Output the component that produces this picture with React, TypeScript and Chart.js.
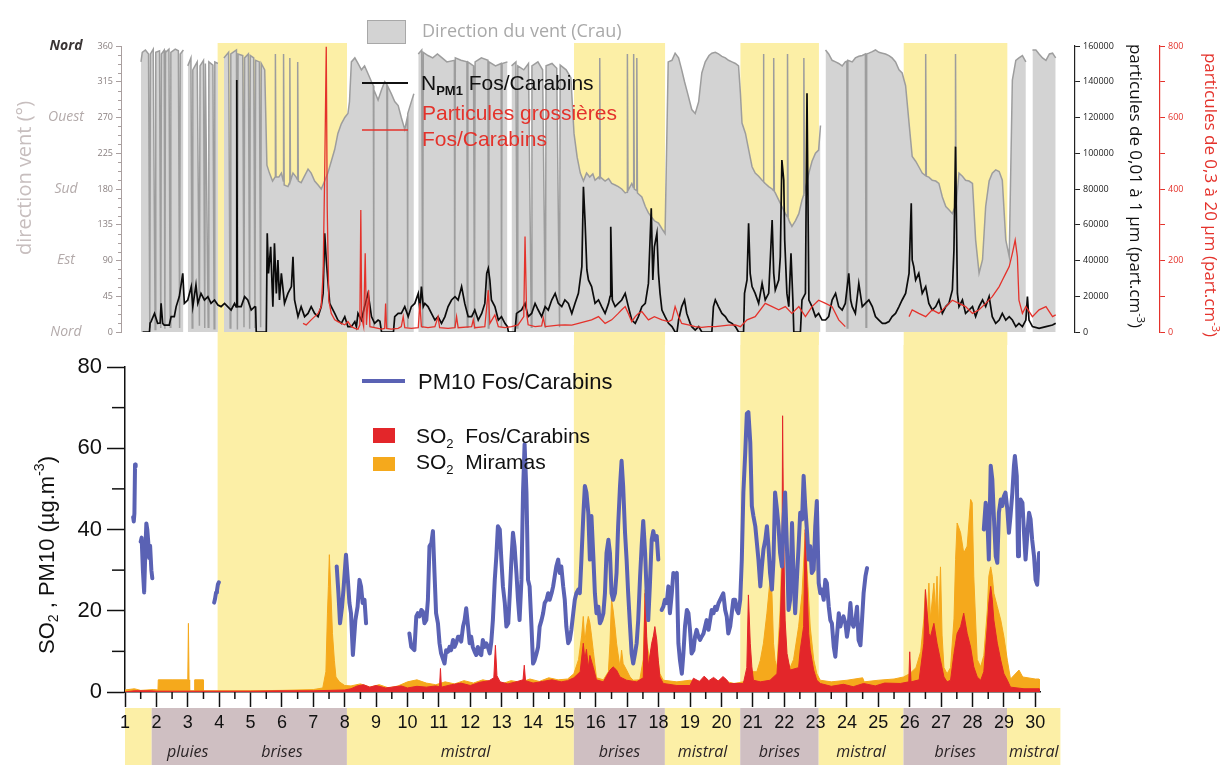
import React, { useEffect, useRef } from "react";
import { Chart, registerables } from "chart.js";

Chart.register(...registerables);
Chart.defaults.font.family = "'Liberation Sans', Arial, sans-serif";

type P = [number, number | null];

// ---------- periods ----------
const brisesStart = [3.95, 15.3, 20.6, 25.8];
const brisesEnd = [8.07, 18.2, 23.1, 29.1];
const stripStart = [1, 1.85, 8.07, 15.3, 18.2, 20.6, 23.1, 25.8, 29.1];
const stripEnd = [1.85, 8.07, 15.3, 18.2, 20.6, 23.1, 25.8, 29.1, 30.8];
const stripKind = ["m", "b", "m", "b", "m", "b", "m", "b", "m"];
const regimeDays = [3.0, 6.0, 11.85, 16.75, 19.4, 21.85, 24.45, 27.45, 29.95];
const regimeTexts = ["pluies", "brises", "mistral", "brises", "mistral", "brises", "mistral", "brises", "mistral"];
const cardinalValues = [360, 270, 180, 90, 0];
const cardinalTexts = ["Nord", "Ouest", "Sud", "Est", "Nord"];
const dayLabels = [1, 2, 3, 4, 5, 6, 7, 8, 9, 10, 11, 12, 13, 14, 15, 16, 17, 18, 19, 20, 21, 22, 23, 24, 25, 26, 27, 28, 29, 30];

// ---------- top panel: wind direction (deg) ----------
const windDir: P[] = [
  [1.51,340],[1.55,352],[1.65,355],[1.75,350],[1.79,5],[1.81,350],[1.9,356],[1.96,3],[1.98,352],[2.1,354],[2.14,5],[2.16,350],[2.25,355],[2.27,4],[2.29,352],[2.4,356],[2.44,6],[2.46,352],[2.6,356],[2.7,354],[2.74,5],[2.76,350],[2.86,355],[2.88,null],
  [3.0,335],[3.1,345],[3.14,5],[3.16,330],[3.3,340],[3.37,8],[3.39,335],[3.5,342],[3.54,5],[3.56,338],[3.65,6],[3.67,340],[3.8,336],[3.84,4],[3.86,340],[3.96,338],[3.98,null],
  [4.15,345],[4.3,352],[4.35,5],[4.37,350],[4.55,355],[4.58,3],[4.6,350],[4.75,348],[4.79,6],[4.81,345],[4.93,350],[4.97,4],[4.99,348],[5.1,345],[5.14,5],[5.16,342],[5.28,340],[5.32,6],[5.34,338],[5.45,330],
  [5.52,210],[5.6,200],[5.7,190],[5.78,195],[5.79,350],[5.81,195],[5.9,195],[5.98,200],[6.04,190],[6.05,350],[6.07,185],[6.19,183],[6.24,188],[6.25,345],[6.27,190],[6.35,200],[6.45,195],[6.49,192],[6.5,340],[6.52,190],[6.61,188],[6.7,195],[6.83,205],[6.93,200],[7.04,190],[7.15,185],[7.25,180],[7.36,190],[7.46,200],[7.57,215],[7.68,230],[7.78,250],[7.89,262],[8.0,270],[8.1,275],[8.15,290],
  [8.21,340],[8.32,345],[8.42,338],[8.53,330],[8.63,335],[8.74,325],[8.85,315],[8.91,310],[8.92,6],[8.93,305],[9.06,292],[9.17,305],[9.27,315],[9.34,312],[9.35,5],[9.36,310],[9.48,300],[9.59,290],[9.7,285],[9.8,270],[9.91,255],[9.99,270],[10.0,6],[10.01,275],[10.12,290],[10.2,300],[10.23,null],
  [10.34,350],[10.45,355],[10.48,5],[10.5,352],[10.65,348],[10.8,345],[10.95,350],[11.1,345],[11.25,340],[11.49,342],[11.5,5],[11.52,345],[11.7,342],[11.89,340],[11.9,6],[11.92,340],[12.1,335],[12.13,4],[12.15,340],[12.35,345],[12.56,342],[12.57,5],[12.59,340],[12.8,335],[12.98,338],[12.99,6],[13.01,338],[13.18,340],[13.2,null],
  [13.31,335],[13.45,340],[13.49,5],[13.51,335],[13.7,330],[13.85,338],[13.94,6],[13.96,335],[14.15,340],[14.3,330],[14.39,5],[14.41,335],[14.6,338],[14.75,332],[14.84,6],[14.86,336],[15.05,330],[15.2,320],
  [15.3,250],[15.4,220],[15.5,200],[15.6,190],[15.7,200],[15.8,195],[15.9,199],[15.97,191],[16.08,195],[16.11,193],[16.12,345],[16.14,195],[16.29,190],[16.4,193],[16.5,187],[16.61,185],[16.71,183],[16.82,180],[16.93,175],[16.99,176],[17.0,350],[17.02,178],[17.14,187],[17.19,182],[17.2,350],[17.22,180],[17.29,178],[17.3,345],[17.32,175],[17.46,170],[17.57,158],[17.67,150],[17.76,145],[17.86,140],[17.99,137],[18.1,130],[18.2,124],
  [18.3,340],[18.42,342],[18.52,351],[18.63,345],[18.73,330],[18.82,315],[18.92,300],[19.05,280],[19.16,275],[19.27,290],[19.37,326],[19.48,340],[19.6,348],[19.69,351],[19.8,352],[19.9,350],[20.01,347],[20.12,345],[20.22,342],[20.33,340],[20.44,338],[20.54,335],[20.6,300],[20.65,263],
  [20.76,250],[20.86,230],[20.97,208],[21.07,200],[21.18,196],[21.29,191],[21.32,190],[21.33,350],[21.35,189],[21.39,187],[21.5,183],[21.61,180],[21.65,178],[21.66,345],[21.68,177],[21.71,175],[21.82,166],[21.92,158],[22.03,149],[22.09,145],[22.1,350],[22.12,143],[22.14,141],[22.24,133],[22.35,140],[22.46,149],[22.56,166],[22.61,172],[22.62,345],[22.64,176],[22.67,180],[22.78,200],[22.88,215],[22.99,225],[23.09,229],[23.15,260],[23.18,null],
  [23.31,355],[23.41,350],[23.52,342],[23.63,340],[23.73,338],[23.84,335],[23.94,340],[23.99,341],[24.0,5],[24.02,342],[24.16,340],[24.26,345],[24.37,347],[24.48,348],[24.58,350],[24.6,6],[24.62,350],[24.69,351],[24.8,353],[24.9,355],[25.01,352],[25.12,351],[25.22,350],[25.33,348],[25.43,345],[25.54,340],[25.65,330],[25.75,326],[25.86,310],[25.97,263],
  [26.07,221],[26.18,215],[26.28,208],[26.39,200],[26.49,197],[26.5,350],[26.52,196],[26.6,195],[26.71,191],[26.82,190],[26.92,187],[27.03,170],[27.14,158],[27.24,154],[27.35,149],[27.44,158],[27.45,350],[27.47,160],[27.56,200],[27.67,196],[27.77,191],[27.88,190],[27.99,187],[28.09,116],[28.2,74],[28.31,91],[28.41,158],[28.52,190],[28.62,200],[28.73,204],[28.84,202],[28.94,191],[29.05,116],[29.16,95],
  [29.26,317],[29.37,342],[29.47,345],[29.58,348],[29.69,340],[29.74,null],
  [29.9,355],[30.01,355],[30.11,350],[30.22,345],[30.33,342],[30.44,350],[30.54,351],[30.64,345],
];

// ---------- top panel: N PM1 (part/cm3) ----------
const npm1: P[] = [
  [1.56,0],[1.78,0],[1.8,5000],[1.83,5800],[1.94,10400],[2.04,4850],[2.12,5000],[2.15,16000],[2.2,4850],[2.25,3900],[2.41,3900],[2.47,8600],[2.57,8600],[2.63,14200],[2.73,19800],[2.84,32800],[2.89,16000],[3.0,17900],[3.11,25400],[3.16,14200],[3.26,26300],[3.32,16000],[3.42,21600],[3.53,17900],[3.64,19800],[3.74,16000],[3.85,17900],[3.96,15100],[4.06,14200],[4.17,16000],[4.27,14200],[4.38,12300],[4.49,16000],[4.54,14000],[4.56,141000],[4.58,14200],[4.62,14200],[4.7,14200],[4.81,19800],[4.91,17900],[5.02,12300],[5.13,14200],[5.16,14000],[5.18,0],[5.34,0],[5.5,0],
  [5.53,55200],[5.57,32800],[5.64,47700],[5.71,14200],[5.76,49600],[5.82,21600],[5.87,40300],[5.92,17900],[5.98,32800],[6.08,16000],[6.19,21600],[6.3,25400],[6.35,42100],[6.4,17900],[6.51,8600],[6.61,14200],[6.72,8600],[6.83,10400],[6.93,14200],[7.04,10400],[7.15,8600],[7.25,14200],[7.31,21600],[7.36,55200],[7.41,40300],[7.46,29100],[7.52,16000],[7.57,14200],[7.68,10400],[7.78,6700],[7.89,4850],[8.0,8600],[8.1,3000],[8.21,3000],[8.32,5800],[8.37,3000],[8.42,10400],[8.53,6700],[8.63,14200],[8.74,21600],[8.79,16000],[8.85,8600],[8.95,4850],[9.06,6700],[9.12,6000],[9.17,0],[9.55,0],
  [9.59,8600],[9.7,10400],[9.8,10400],[9.91,14200],[10.02,8600],[10.12,14200],[10.23,16000],[10.34,21600],[10.39,12300],[10.44,25400],[10.5,14200],[10.55,16000],[10.65,14200],[10.76,10400],[10.87,6700],[10.97,8600],[11.08,4850],[11.19,8600],[11.29,14200],[11.4,17900],[11.51,19800],[11.61,17900],[11.72,25400],[11.82,16000],[11.93,8600],[12.04,8600],[12.14,12300],[12.25,6700],[12.36,10400],[12.46,16000],[12.52,32800],[12.57,35600],[12.62,29100],[12.67,17900],[12.78,14200],[12.89,6700],[12.99,8600],[13.1,4850],[13.18,3000],[13.21,0],[13.42,0],
  [13.47,10400],[13.63,12300],[13.74,16000],[13.84,8600],[13.95,10400],[14.06,16000],[14.16,12300],[14.27,8600],[14.38,14200],[14.48,12300],[14.59,17900],[14.7,21600],[14.8,16000],[14.91,14200],[15.01,17900],[15.12,16000],[15.23,10400],[15.33,16000],[15.44,21600],[15.55,36600],[15.6,81300],[15.65,62700],[15.71,34700],[15.76,29100],[15.86,25400],
  [15.97,16000],[16.08,17900],[16.18,14200],[16.29,10400],[16.4,16000],[16.45,20000],[16.47,58900],[16.52,17900],[16.61,14200],[16.71,16000],[16.82,17900],[16.93,21600],[17.03,14200],[17.14,6700],[17.25,4850],[17.35,8600],[17.46,14200],[17.57,16000],[17.67,27200],[17.76,69200],[17.81,29100],[17.86,47700],[17.94,55200],[17.99,32800],[18.04,21600],[18.1,12300],[18.2,8600],[18.31,4850],[18.42,3000],[18.52,0],[18.58,0],
  [18.63,6700],[18.73,14200],[18.82,17900],[18.89,10400],[19.0,4850],[19.05,3000],[19.16,1100],[19.27,3000],[19.37,0],[19.69,0],[19.74,14200],[19.8,17900],[19.9,14200],[20.01,10400],[20.12,8600],[20.22,5800],[20.33,4850],[20.44,3000],[20.54,0],[20.7,0],
  [20.73,21600],[20.81,29100],[20.86,60800],[20.91,32800],[20.97,25400],[21.07,21600],[21.18,16000],[21.29,27200],[21.39,17900],[21.5,21600],[21.61,62700],[21.66,32800],[21.71,23500],[21.82,29100],[21.87,42100],[21.92,96200],[21.98,85000],[22.01,51500],[22.08,21600],[22.14,14200],[22.21,44000],[22.27,17900],[22.3,0],[22.51,0],
  [22.56,17900],[22.67,21600],[22.72,133500],[22.78,17900],[22.88,14200],[22.99,8600],[23.09,10400],[23.2,6700],[23.31,6700],[23.41,8600],[23.52,17900],[23.63,21600],[23.73,14200],[23.84,12300],[23.94,16000],[24.05,32800],[24.11,17900],[24.16,14200],[24.26,10400],[24.37,27200],[24.48,14200],[24.58,16000],[24.69,17900],[24.8,14200],[24.9,8600],[25.01,6700],[25.12,4850],[25.22,4850],[25.33,5800],[25.43,8600],[25.54,10400],[25.65,14200],[25.75,17900],[25.86,21600],[25.97,32800],
  [26.04,72000],[26.07,40300],[26.12,36600],[26.18,29100],[26.28,32800],[26.39,21600],[26.5,25400],[26.6,16000],[26.71,12300],[26.82,14200],[26.92,17900],[27.03,10400],[27.14,14200],[27.24,16000],[27.35,23500],[27.4,45900],[27.45,103700],[27.51,21600],[27.56,14200],[27.67,17900],[27.77,10400],[27.88,12300],[27.99,14200],[28.09,8600],[28.2,14200],[28.31,17900],[28.41,14200],[28.52,19800],[28.62,8600],[28.73,4850],[28.84,6700],[28.94,10400],[29.05,6700],[29.16,8600],[29.26,6700],[29.37,3000],[29.47,4850],[29.58,3000],[29.69,6700],[29.74,19800],[29.79,6700],[29.9,3000],[30.11,2050],[30.33,3000],[30.54,3900],[30.64,4850],
];

// ---------- top panel: coarse particles 0.3-20 um (part/cm3) ----------
const coarse: P[] = [
  [6.67,24],[6.77,20],[6.93,34],[7.04,43],[7.15,52],[7.25,71],[7.31,164],[7.36,444],[7.41,798],[7.44,350],[7.49,89],[7.57,52],[7.68,34],[7.78,29],[7.89,24],[8.0,20],[8.1,29],[8.21,15],[8.32,10],[8.42,8],[8.48,20],[8.51,341],[8.54,40],[8.6,15],[8.65,220],[8.69,20],[8.76,117],[8.8,15],[8.95,12],[9.06,10],[9.17,8],[9.27,10],[9.3,80],[9.33,10],[9.48,8],[9.7,10],[9.8,15],[9.86,43],[9.91,12],[10.12,10],[10.34,12],[10.39,80],[10.44,15],[10.65,12],[10.87,15],[10.97,43],[11.02,12],[11.29,10],[11.51,12],[11.56,43],[11.61,12],[12.04,15],[12.09,34],[12.14,12],[12.46,15],[12.57,117],[12.62,24],[12.78,48],[12.89,15],[13.1,12],[13.31,15],[13.52,20],[13.7,43],[13.74,267],[13.79,52],[13.84,20],[14.06,15],[14.27,17],[14.32,40],[14.38,15],[14.59,17],[14.8,19],[15.01,20],[15.23,19],[15.44,24],[15.65,29],[15.86,34],
  [16.08,43],[16.29,24],[16.5,34],[16.71,52],[16.82,62],[16.93,71],[17.03,52],[17.14,29],[17.25,43],[17.35,52],[17.46,57],[17.67,34],[17.86,43],[18.1,34],[18.31,29],[18.42,34],[18.52,71],[18.63,43],[18.73,24],[18.94,20],[19.16,15],[19.37,13],[19.58,15],[19.8,15],[20.01,17],[20.22,19],[20.44,20],[20.6,15],[20.81,34],[21.07,43],[21.39,80],[21.61,71],[21.82,62],[22.03,71],[22.24,52],[22.46,71],[22.67,43],[22.88,71],[23.09,89],[23.31,80],[23.52,71],[23.73,34],[23.94,15],[24.0,null],
  [25.97,43],[26.07,62],[26.28,52],[26.5,43],[26.71,62],[26.92,52],[27.14,71],[27.35,89],[27.56,80],[27.77,71],[27.99,52],[28.2,62],[28.41,80],[28.62,99],[28.84,127],[28.94,145],[29.05,164],[29.16,183],[29.26,220],[29.35,257],[29.42,211],[29.47,89],[29.58,52],[29.69,71],[29.9,43],[30.11,62],[30.33,71],[30.54,43],[30.64,48],
];

// ---------- bottom panel: PM10 (ug/m3) ----------
const pm10: P[] = [
  [1.26,43],[1.28,42],[1.3,44],[1.32,56],[1.34,55.5],[1.4,null],
  [1.5,37],[1.53,38],[1.57,30],[1.61,24.5],[1.65,35],[1.68,41.5],[1.71,40],[1.74,37],[1.77,33],[1.8,36],[1.84,30],[1.87,28],[2.0,null],
  [3.84,22],[3.87,23],[3.9,24.5],[3.93,25],[3.96,26.5],[3.99,27],[4.5,null],
  [7.745,30.9],[7.8,24.3],[7.85,16.9],[7.915,21],[7.96,25.2],[8.04,33.8],[8.1,27.6],[8.15,21.9],[8.2,19.4],[8.26,9.1],[8.34,17.7],[8.41,21],[8.47,27.6],[8.52,26],[8.57,21.9],[8.63,22.7],[8.68,16.9],[9.0,null],
  [10.06,14.4],[10.12,11.1],[10.22,10.3],[10.28,18.6],[10.33,19.4],[10.38,18.6],[10.44,20.2],[10.49,19.8],[10.54,16.9],[10.6,17.7],[10.65,22.7],[10.7,35.9],[10.76,36.7],[10.81,39.6],[10.86,29.3],[10.91,19.4],[10.97,16.9],[11.02,12],[11.07,9.5],[11.18,7],[11.23,10.3],[11.29,9.9],[11.34,11.1],[11.39,10.3],[11.45,12.8],[11.5,11.1],[11.55,12],[11.61,13.6],[11.66,13.6],[11.71,12.4],[11.77,16.1],[11.82,17.7],[11.87,20.6],[11.93,16.1],[11.98,12],[12.03,13.6],[12.08,11.1],[12.14,9.9],[12.19,9.1],[12.24,11.1],[12.3,9.5],[12.35,9.1],[12.4,12.8],[12.46,11.1],[12.51,12],[12.56,11.1],[12.62,9.5],[12.67,12.4],[12.72,17.7],[12.78,27.6],[12.83,33.4],[12.88,40.8],[12.94,40],[12.99,32.6],[13.04,26],[13.1,21.9],[13.15,16.1],[13.21,16.9],[13.26,24.3],[13.31,32.6],[13.36,39.2],[13.41,35.9],[13.47,29.3],[13.52,22.7],[13.57,17.7],[13.63,27.6],[13.68,49.1],[13.73,61],[13.79,49.1],[13.84,27.6],[13.89,26],[13.95,16.1],[14.0,7],[14.05,7.8],[14.11,9.5],[14.16,11.1],[14.21,16.1],[14.27,17.7],[14.32,19.4],[14.37,21.9],[14.43,22.7],[14.48,24.3],[14.53,22.7],[14.59,24.3],[14.64,26],[14.69,28.5],[14.74,30.9],[14.8,32.6],[14.85,29.3],[14.9,30.9],[14.96,26],[15.01,22.7],[15.06,16.1],[15.12,12],[15.17,12.8],[15.22,15.3],[15.28,19.4],[15.33,22.7],[15.38,24.3],[15.44,25.2],[15.49,24.3],[15.54,32.6],[15.6,43.3],[15.65,50.7],[15.7,49.1],[15.76,44.1],
  [15.81,32.6],[15.86,43.3],[15.92,33.4],[15.97,24.3],[16.02,19.4],[16.08,21],[16.13,16.9],[16.18,17.7],[16.24,19.4],[16.29,24.3],[16.34,34.2],[16.4,37.5],[16.45,34.2],[16.5,24.3],[16.55,22.7],[16.61,24.3],[16.66,29.3],[16.71,40.8],[16.77,50.7],[16.82,56.9],[16.87,50.7],[16.93,39.2],[16.98,32.6],[17.03,24.3],[17.09,16.1],[17.14,9.5],[17.19,7],[17.25,9.5],[17.3,12],[17.35,17.7],[17.41,28.5],[17.46,35.9],[17.51,42.1],[17.57,34.2],[17.62,24.3],[17.67,17.7],[17.72,26],[17.78,37.5],[17.83,39.6],[17.88,37.5],[17.94,38.4],[17.99,32.6],[18.05,null],
  [18.1,20.2],[18.15,21],[18.2,22.7],[18.26,21.9],[18.31,26],[18.36,19.4],[18.42,24.3],[18.47,29.3],[18.52,28.5],[18.58,29.3],[18.63,12],[18.68,7.8],[18.74,4.5],[18.79,9.5],[18.84,16.1],[18.9,20.2],[18.95,19.4],[19.0,15.3],[19.05,9.5],[19.11,10.3],[19.16,13.6],[19.21,15.3],[19.27,13.6],[19.32,12.8],[19.37,13.6],[19.43,14.4],[19.48,16.1],[19.53,17.7],[19.59,15.3],[19.64,17.7],[19.69,20.2],[19.75,19.4],[19.8,21],[19.85,20.2],[19.91,21.9],[19.96,22.7],[20.01,23.5],[20.06,24.3],[20.12,20.2],[20.17,18.6],[20.22,14.4],[20.28,16.1],[20.33,19.4],[20.38,22.7],[20.44,22.7],[20.49,20.2],[20.54,19.4],[20.6,22.7],[20.65,32.6],[20.7,49.1],[20.76,59],[20.81,68.5],[20.86,68.9],[20.92,61.4],[20.97,45.8],[21.02,43.3],[21.08,40.8],[21.13,36.7],[21.18,32.6],[21.24,26],[21.29,30.9],[21.34,35.1],[21.4,37.5],[21.45,40.8],[21.5,35.9],[21.55,29.3],[21.61,25.2],[21.66,32.6],[21.71,49.1],[21.77,44.9],[21.82,40.8],[21.87,34.2],[21.93,30.9],[21.98,42.5],[22.03,49.1],[22.09,35.1],[22.14,20.2],[22.19,22.7],[22.25,41.6],[22.3,28.5],[22.35,19.4],[22.41,28.5],[22.46,35.9],[22.51,44.1],[22.57,42.5],[22.62,53.2],[22.67,45.8],[22.73,39.2],[22.78,32.6],[22.83,35.9],[22.88,29.3],[22.94,30.1],[22.99,40.8],[23.04,47],[23.1,26.8],[23.15,24.3],[23.2,25.2],[23.26,22.7],[23.31,27.6],[23.36,26.8],[23.42,21],[23.47,17.7],[23.52,16.9],[23.58,11.1],[23.63,8.7],[23.68,13.6],[23.74,19.4],[23.79,16.1],[23.84,17.7],[23.89,18.6],[23.95,16.9],[24.0,13.6],[24.05,16.1],[24.11,21.9],[24.16,16.9],[24.21,16.1],[24.27,17.7],[24.32,21],[24.37,12.8],[24.43,11.5],[24.48,17.7],[24.53,24.3],[24.59,28.5],[24.64,30.5],[25.0,null],
  [28.36,40],[28.42,46.6],[28.47,43.3],[28.52,32.6],[28.58,55.7],[28.63,52.4],[28.68,43.3],[28.74,33.4],[28.79,31.8],[28.84,44.1],[28.9,47.4],[28.95,45.8],[29.0,48.2],[29.05,49.1],[29.11,44.9],[29.16,39.2],[29.21,43.3],[29.27,49.1],[29.32,55.7],[29.35,58.1],[29.41,53.2],[29.45,33.4],[29.48,42.5],[29.53,47.4],[29.59,46.6],[29.64,39.2],[29.69,32.6],[29.75,39.2],[29.8,44.1],[29.85,42.5],[29.9,37.5],[29.96,33.4],[30.01,27.6],[30.06,26.4],[30.12,34.2],
];

// ---------- bottom panel: SO2 Fos/Carabins (ug/m3) ----------
const so2Fos: P[] = [
  [1.0,0],[1.3,0.3],[1.8,0.3],[2.0,0.2],[3.0,0.2],[4.0,0.2],[5.0,0.2],[6.0,0.3],[7.0,0.3],[7.5,0.4],[8.0,0.5],[8.2,0.8],[8.4,1.5],[8.6,1.8],[8.8,1.2],[9.0,1.6],[9.3,1.0],[9.5,1.2],[9.8,1.5],[10.0,1.0],[10.3,1.4],[10.6,1.2],[10.9,1.5],[11.02,1.3],[11.05,5.8],[11.08,1.2],[11.4,1.8],[11.7,2.2],[12.0,1.6],[12.3,2.4],[12.6,2.8],[12.75,3.5],[12.8,11.5],[12.85,4],[12.95,2.5],[13.2,2.0],[13.5,2.6],[13.68,3.0],[13.72,6.6],[13.76,2.8],[14.0,2.2],[14.3,2.6],[14.6,3.0],[14.9,2.5],[15.1,2.8],[15.3,3.5],[15.5,5],[15.6,12],[15.65,8],[15.7,10.5],[15.76,6],[15.81,9],[15.92,6],[16.02,3],[16.24,2.5],[16.45,5.4],[16.55,6.2],[16.66,5.4],[16.77,3.7],[16.98,2.9],[17.3,2.5],[17.51,3.5],[17.57,24.3],[17.62,13.6],[17.67,6.2],[17.78,12],[17.83,13.6],[17.88,16.1],[17.94,12.8],[17.99,7.8],[18.04,3.7],[18.15,2.1],[18.58,1.6],[19.0,1.6],[19.11,3.4],[19.3,2.6],[19.45,3.9],[19.6,2.8],[19.75,3.6],[19.9,2.7],[20.05,3.8],[20.17,3.0],[20.25,2.1],[20.7,2.1],[20.81,6],[20.86,23.9],[20.92,12],[20.97,6.2],[21.02,2.9],[21.24,2.5],[21.55,2.9],[21.77,4.5],[21.87,16.1],[21.93,30],[21.95,68],[21.98,40],[22.03,17.7],[22.09,9.5],[22.19,5.4],[22.46,6],[22.51,10.3],[22.62,16.1],[22.67,40],[22.73,26],[22.78,14.4],[22.83,10.3],[22.94,5.4],[23.04,2.9],[23.15,2.1],[23.5,1.4],[23.89,1.9],[24.2,1.3],[24.53,2.1],[24.9,1.5],[25.2,2.2],[25.7,2.1],[25.97,2.5],[26.0,9.9],[26.04,2.5],[26.3,3],[26.45,12],[26.5,25.2],[26.55,20],[26.61,14.4],[26.66,13.6],[26.77,16.9],[26.87,12],[26.98,7.8],[27.09,3.7],[27.19,2.5],[27.3,2.9],[27.41,9.5],[27.46,12],[27.51,14.4],[27.62,16.1],[27.72,19.4],[27.83,14.4],[27.94,11],[28.04,6.2],[28.15,3.7],[28.26,2.9],[28.36,5],[28.47,16],[28.52,21.9],[28.58,26],[28.63,22.7],[28.68,17.7],[28.79,12],[28.9,7.8],[29.0,4.5],[29.11,2.9],[29.21,1.2],[29.64,0.8],[30.12,0.8],[30.13,0],
];

// ---------- bottom panel: SO2 Miramas (ug/m3) ----------
const so2Miramas: P[] = [
  [1.0,0.5],[1.3,0.8],[1.5,0.4],[1.9,0.6],[2.05,0.5],[2.06,3],[2.5,3],[3.0,3],[3.02,16.9],[3.04,3],[3.06,0.3],[3.2,0.3],[3.22,3],[3.49,3],[3.5,0.3],[4.0,0.3],[5.0,0.3],[6.0,0.4],[7.0,0.6],[7.3,1],[7.4,5],[7.45,19.4],[7.48,26],[7.51,33.8],[7.56,24.3],[7.61,14.4],[7.67,7.8],[7.72,3.7],[7.83,2.5],[8.0,1.6],[8.2,1.5],[8.5,2.0],[8.8,1.2],[9.1,1.8],[9.4,1.0],[9.7,1.5],[10.0,2.5],[10.3,3.0],[10.6,2.2],[10.9,1.8],[11.2,2.5],[11.5,2.0],[11.8,2.8],[12.1,2.2],[12.4,3.0],[12.7,2.5],[13.0,2.0],[13.3,2.8],[13.6,2.4],[13.9,3.2],[14.2,2.6],[14.5,3.5],[14.8,3.0],[15.1,3.2],[15.3,4.5],[15.45,8],[15.55,14],[15.6,18.6],[15.65,12],[15.7,16],[15.76,18.6],[15.81,17],[15.86,14],[15.92,10],[16.02,3.5],[16.24,3],[16.4,5],[16.45,12],[16.5,22.7],[16.55,20.2],[16.61,16.1],[16.66,12],[16.77,6],[16.82,10.3],[16.87,7],[16.98,5.4],[17.09,3.7],[17.19,2.9],[17.4,3],[17.51,8],[17.57,25.2],[17.62,12],[17.72,8],[17.83,13.6],[17.94,10],[18.04,4.5],[18.15,2.9],[18.58,2.5],[19.0,2.9],[19.5,2.5],[20.0,2.9],[20.4,2.1],[20.7,2.5],[20.86,4],[20.97,5],[21.13,5],[21.24,7.8],[21.34,12],[21.45,19.4],[21.55,27.6],[21.61,24.3],[21.66,12],[21.71,7.8],[21.77,6],[21.87,20],[21.93,36],[21.98,30],[22.03,14],[22.09,8],[22.19,6],[22.3,8],[22.46,16.1],[22.57,24.3],[22.67,39.2],[22.73,30],[22.83,16],[22.94,8],[23.04,4.5],[23.15,2.9],[23.5,2.5],[24.0,2.9],[24.5,3.5],[24.55,2.5],[25.0,2.9],[25.5,3.2],[25.8,3.7],[26.0,4.5],[26.2,6],[26.35,10],[26.45,18],[26.5,25.2],[26.55,16],[26.61,26.8],[26.66,18],[26.77,26.8],[26.82,20],[26.87,28.5],[26.92,16],[26.98,30.8],[27.03,14],[27.09,6],[27.19,4.5],[27.3,6],[27.41,18],[27.46,32.6],[27.51,41.6],[27.62,39.2],[27.72,34.2],[27.83,35.9],[27.94,47.4],[27.99,46.6],[28.04,28.5],[28.15,8],[28.26,6.2],[28.36,9],[28.47,20],[28.52,28.5],[28.58,30.8],[28.63,28.5],[28.68,24.3],[28.79,21],[28.9,17.7],[29.0,13.6],[29.11,7.8],[29.21,3.2],[29.48,5.4],[29.6,3.7],[30.0,3.2],[30.12,3.2],[30.13,0],
];

// ---------- styles ----------
const YELLOW = "#fcefa6";
const MAUVE = "#cfbfc2";
const GREY_FILL = "#d3d3d3";
const GREY_LINE = "#9d9d9d";
const RED_TOP = "#e4322b";
const BLUE = "#5a62b4";
const RED_SO2 = "#e3262a";
const ORANGE_SO2 = "#f5a91c";
const OPEN = "'Open Sans', 'DejaVu Sans', sans-serif";
const LIB = "'Liberation Sans', Arial, sans-serif";

const toXY = (arr: P[]) => arr.map(([x, y]) => ({ x, y }));

type Seg = { t: string; size: number; dy?: number; weight?: string; style?: string };

function segFont(s: Seg, family: string) {
  return `${s.style || "normal"} ${s.weight || "normal"} ${s.size}px ${family}`;
}

function drawRich(ctx: CanvasRenderingContext2D, x: number, y: number, rot: number, segs: Seg[], family: string, color: string, align: "center" | "left") {
  ctx.save();
  ctx.translate(x, y);
  ctx.rotate(rot);
  ctx.fillStyle = color;
  ctx.textAlign = "left";
  ctx.textBaseline = "alphabetic";
  let total = 0;
  for (const s of segs) {
    ctx.font = segFont(s, family);
    total += ctx.measureText(s.t).width;
  }
  let cx = align === "center" ? -total / 2 : 0;
  for (const s of segs) {
    ctx.font = segFont(s, family);
    ctx.fillText(s.t, cx, s.dy || 0);
    cx += ctx.measureText(s.t).width;
  }
  ctx.restore();
}

const topDecor = {
  id: "topDecor",
  beforeDatasetsDraw(chart: any) {
    const { ctx, chartArea, scales } = chart;
    const xs = scales.x;
    ctx.save();
    ctx.fillStyle = YELLOW;
    for (let i = 0; i < brisesStart.length; i++) {
      const a = xs.getPixelForValue(brisesStart[i]);
      const b = xs.getPixelForValue(brisesEnd[i]);
      ctx.fillRect(a, chartArea.top - 3, b - a, chart.height - chartArea.top + 3);
    }
    ctx.restore();
  },
  afterDraw(chart: any) {
    const { ctx, chartArea, scales } = chart;
    const yd = scales.yDir;
    ctx.save();
    ctx.strokeStyle = "#a99f9f";
    ctx.lineWidth = 1;
    for (let v = 0; v <= 360; v += 11.25) {
      if (v % 45 === 0) continue;
      const y = Math.round(yd.getPixelForValue(v)) + 0.5;
      ctx.beginPath();
      ctx.moveTo(chartArea.left - 3, y);
      ctx.lineTo(chartArea.left, y);
      ctx.stroke();
    }
    ctx.textAlign = "center";
    ctx.textBaseline = "middle";
    cardinalValues.forEach((v, i) => {
      const first = i === 0;
      ctx.font = `italic ${first ? "bold " : ""}14px ${OPEN}`;
      ctx.fillStyle = first ? "#3a3535" : "#b3aaaa";
      ctx.fillText(cardinalTexts[i], 66, yd.getPixelForValue(v));
    });
    drawRich(ctx, 24, 178, -Math.PI / 2, [{ t: "direction vent (°)", size: 20, dy: 7 }], OPEN, "#c7bebe", "center");
    drawRich(ctx, 1136, 186, Math.PI / 2, [
      { t: "particules de 0,01 à 1 µm (part.cm", size: 17, dy: 6 },
      { t: "-3", size: 11, dy: -1 },
      { t: ")", size: 17, dy: 6 },
    ], OPEN, "#111", "center");
    drawRich(ctx, 1211, 195, Math.PI / 2, [
      { t: "particules de 0,3 à 20 µm (part.cm", size: 17, dy: 6 },
      { t: "-3", size: 11, dy: -1 },
      { t: ")", size: 17, dy: 6 },
    ], OPEN, RED_TOP, "center");
    ctx.fillStyle = GREY_FILL;
    ctx.fillRect(367, 20, 38, 23);
    ctx.strokeStyle = "#a8a8a8";
    ctx.lineWidth = 1;
    ctx.strokeRect(367.5, 20.5, 38, 23);
    drawRich(ctx, 422, 37, 0, [{ t: "Direction du vent (Crau)", size: 18 }], OPEN, "#a9a9a9", "left");
    ctx.strokeStyle = "#111";
    ctx.lineWidth = 1.8;
    ctx.beginPath();
    ctx.moveTo(362, 83);
    ctx.lineTo(408, 83);
    ctx.stroke();
    drawRich(ctx, 421, 90, 0, [
      { t: "N", size: 21 },
      { t: "PM1", size: 13, dy: 5, weight: "bold" },
      { t: " Fos/Carabins", size: 21 },
    ], LIB, "#111", "left");
    ctx.strokeStyle = RED_TOP;
    ctx.lineWidth = 1.5;
    ctx.beginPath();
    ctx.moveTo(362, 130);
    ctx.lineTo(408, 130);
    ctx.stroke();
    drawRich(ctx, 422, 120, 0, [{ t: "Particules grossières", size: 21 }], LIB, RED_TOP, "left");
    drawRich(ctx, 422, 146, 0, [{ t: "Fos/Carabins", size: 21 }], LIB, RED_TOP, "left");
    ctx.restore();
  },
};

const bottomDecor = {
  id: "bottomDecor",
  beforeDraw(chart: any) {
    const { ctx, chartArea, scales } = chart;
    const xs = scales.x;
    ctx.save();
    const top = chartArea.bottom + 16;
    for (let i = 0; i < stripStart.length; i++) {
      const a = xs.getPixelForValue(stripStart[i]);
      const b = xs.getPixelForValue(stripEnd[i]);
      ctx.fillStyle = stripKind[i] === "m" ? YELLOW : MAUVE;
      ctx.fillRect(a, top, b - a, chart.height - top);
    }
    ctx.fillStyle = YELLOW;
    for (let i = 0; i < brisesStart.length; i++) {
      const a = xs.getPixelForValue(brisesStart[i]);
      const b = xs.getPixelForValue(brisesEnd[i]);
      ctx.fillRect(a, 0, b - a, chartArea.bottom);
    }
    ctx.restore();
  },
  afterDraw(chart: any) {
    const { ctx, chartArea, scales } = chart;
    const xs = scales.x;
    const ys = scales.y;
    ctx.save();
    ctx.strokeStyle = "#111";
    ctx.lineWidth = 1.5;
    for (const d of dayLabels) {
      if (d >= 30) continue;
      const x = xs.getPixelForValue(d + 0.5);
      ctx.beginPath();
      ctx.moveTo(x, chartArea.bottom);
      ctx.lineTo(x, chartArea.bottom + 7);
      ctx.stroke();
    }
    for (let v = 10; v < 80; v += 20) {
      const y = ys.getPixelForValue(v);
      ctx.beginPath();
      ctx.moveTo(chartArea.left - 13, y);
      ctx.lineTo(chartArea.left, y);
      ctx.stroke();
    }
    ctx.fillStyle = "#2a2426";
    ctx.font = `italic 16px ${OPEN}`;
    ctx.textAlign = "center";
    ctx.textBaseline = "middle";
    regimeDays.forEach((d, i) => {
      ctx.fillText(regimeTexts[i], xs.getPixelForValue(d), chart.height - 13);
    });
    drawRich(ctx, 46, 210, -Math.PI / 2, [
      { t: "SO", size: 22, dy: 8 },
      { t: "2", size: 14, dy: 12 },
      { t: " , PM10 (µg.m", size: 22, dy: 8 },
      { t: "-3", size: 14, dy: -2 },
      { t: ")", size: 22, dy: 8 },
    ], LIB, "#111", "center");
    ctx.strokeStyle = BLUE;
    ctx.lineWidth = 4;
    ctx.beginPath();
    ctx.moveTo(362, 36);
    ctx.lineTo(405, 36);
    ctx.stroke();
    drawRich(ctx, 418, 44, 0, [{ t: "PM10 Fos/Carabins", size: 22 }], LIB, "#111", "left");
    ctx.fillStyle = RED_SO2;
    ctx.fillRect(373, 83, 22, 15);
    drawRich(ctx, 416, 98, 0, [
      { t: "SO", size: 21 },
      { t: "2", size: 13, dy: 5 },
      { t: "  Fos/Carabins", size: 21 },
    ], LIB, "#111", "left");
    ctx.fillStyle = ORANGE_SO2;
    ctx.fillRect(373, 112, 22, 14);
    drawRich(ctx, 416, 124, 0, [
      { t: "SO", size: 21 },
      { t: "2", size: 13, dy: 5 },
      { t: "  Miramas", size: 21 },
    ], LIB, "#111", "left");
    ctx.restore();
  },
};

function topConfig(): any {
  return {
    type: "line",
    data: {
      datasets: [
        { label: "Direction du vent (Crau)", data: toXY(windDir), yAxisID: "yDir", borderColor: GREY_LINE, backgroundColor: GREY_FILL, fill: "origin", borderWidth: 1.5, pointRadius: 0, order: 3, spanGaps: false, tension: 0 },
        { label: "NPM1 Fos/Carabins", data: toXY(npm1), yAxisID: "yN", borderColor: "#0b0b0b", borderWidth: 1.7, pointRadius: 0, fill: false, order: 2, tension: 0 },
        { label: "Particules grossières Fos/Carabins", data: toXY(coarse), yAxisID: "yR", borderColor: RED_TOP, borderWidth: 1.3, pointRadius: 0, fill: false, order: 1, spanGaps: false, tension: 0 },
      ],
    },
    options: {
      animation: false,
      responsive: false,
      maintainAspectRatio: false,
      events: [],
      layout: { padding: { top: 46, bottom: 13, left: 0, right: 0 } },
      plugins: { legend: { display: false }, tooltip: { enabled: false } },
      scales: {
        x: { type: "linear", min: 0.873, max: 31.255, display: false },
        yDir: {
          position: "left", min: 0, max: 360,
          ticks: { stepSize: 45, font: { size: 9, family: OPEN }, color: "#8a8080", padding: 3, callback: (v: number) => String(v) },
          grid: { drawOnChartArea: false, tickLength: 5, color: "#a99f9f" },
          border: { color: "#a99f9f", width: 1 },
          afterFit: (s: any) => { s.width = 121; },
        },
        yN: {
          position: "right", weight: 0, min: 0, max: 160000,
          ticks: { stepSize: 20000, font: { size: 9, family: OPEN }, color: "#222", padding: 3, callback: (v: number) => String(v) },
          grid: { drawOnChartArea: false, tickLength: 5, color: "#222" },
          border: { color: "#222", width: 1.2 },
          afterFit: (s: any) => { s.width = 85; },
        },
        yR: {
          position: "right", weight: 1, min: 0, max: 800,
          ticks: { stepSize: 100, font: { size: 9, family: OPEN }, color: RED_TOP, padding: 3, callback: (v: number) => (v % 200 === 0 ? String(v) : "") },
          grid: { drawOnChartArea: false, tickLength: 5, color: RED_TOP },
          border: { color: RED_TOP, width: 1.2 },
          afterFit: (s: any) => { s.width = 63; },
        },
      },
    },
    plugins: [topDecor],
  };
}

function bottomConfig(): any {
  return {
    type: "line",
    data: {
      datasets: [
        { label: "PM10 Fos/Carabins", data: toXY(pm10), borderColor: BLUE, borderWidth: 4, pointRadius: 0, fill: false, order: 1, spanGaps: false, borderJoinStyle: "round", borderCapStyle: "round", tension: 0 },
        { label: "SO2 Fos/Carabins", data: toXY(so2Fos), borderColor: RED_SO2, backgroundColor: RED_SO2, borderWidth: 1, pointRadius: 0, fill: "origin", order: 2, tension: 0 },
        { label: "SO2 Miramas", data: toXY(so2Miramas), borderColor: ORANGE_SO2, backgroundColor: ORANGE_SO2, borderWidth: 1, pointRadius: 0, fill: "origin", order: 3, tension: 0 },
      ],
    },
    options: {
      animation: false,
      responsive: false,
      maintainAspectRatio: false,
      events: [],
      layout: { padding: { top: 22, right: 183, left: 0, bottom: 0 } },
      plugins: { legend: { display: false }, tooltip: { enabled: false } },
      scales: {
        x: {
          type: "linear", min: 1, max: 30.15,
          afterBuildTicks: (s: any) => {
            s.ticks = dayLabels.map((d) => ({ value: d }));
          },
          ticks: {
            autoSkip: false, maxRotation: 0, minRotation: 0, padding: 5,
            font: { size: 18, family: LIB }, color: "#111",
            callback: (v: number) => String(v),
          },
          grid: { drawOnChartArea: false, tickLength: 15, tickWidth: 1.5, tickColor: "#111" },
          border: { color: "#111", width: 1.5 },
          afterFit: (s: any) => { s.height = 73; },
        },
        y: {
          min: 0, max: 80,
          ticks: { stepSize: 10, padding: 5, font: { size: 22, family: LIB }, color: "#111", callback: (v: number) => (v % 20 === 0 ? String(v) : "") },
          grid: {
            drawOnChartArea: false, tickLength: 18, tickWidth: 1.5,
            tickColor: (c: any) => (c.tick && c.tick.value % 20 === 0 ? "#111" : "rgba(0,0,0,0)"),
          },
          border: { color: "#111", width: 1.5 },
          afterFit: (s: any) => { s.width = 125; },
        },
      },
    },
    plugins: [bottomDecor],
  };
}

export default function App() {
  const topRef = useRef<HTMLCanvasElement>(null);
  const botRef = useRef<HTMLCanvasElement>(null);
  useEffect(() => {
    const top = new Chart(topRef.current as HTMLCanvasElement, topConfig());
    const bot = new Chart(botRef.current as HTMLCanvasElement, bottomConfig());
    return () => {
      top.destroy();
      bot.destroy();
    };
  }, []);
  return (
    <div style={{ position: "absolute", left: 0, top: 0, width: 1223, height: 765, background: "#fff", overflow: "hidden" }}>
      <canvas ref={topRef} width={1223} height={345} style={{ position: "absolute", left: 0, top: 0, width: 1223, height: 345 }} />
      <canvas ref={botRef} width={1223} height={420} style={{ position: "absolute", left: 0, top: 345, width: 1223, height: 420 }} />
    </div>
  );
}
